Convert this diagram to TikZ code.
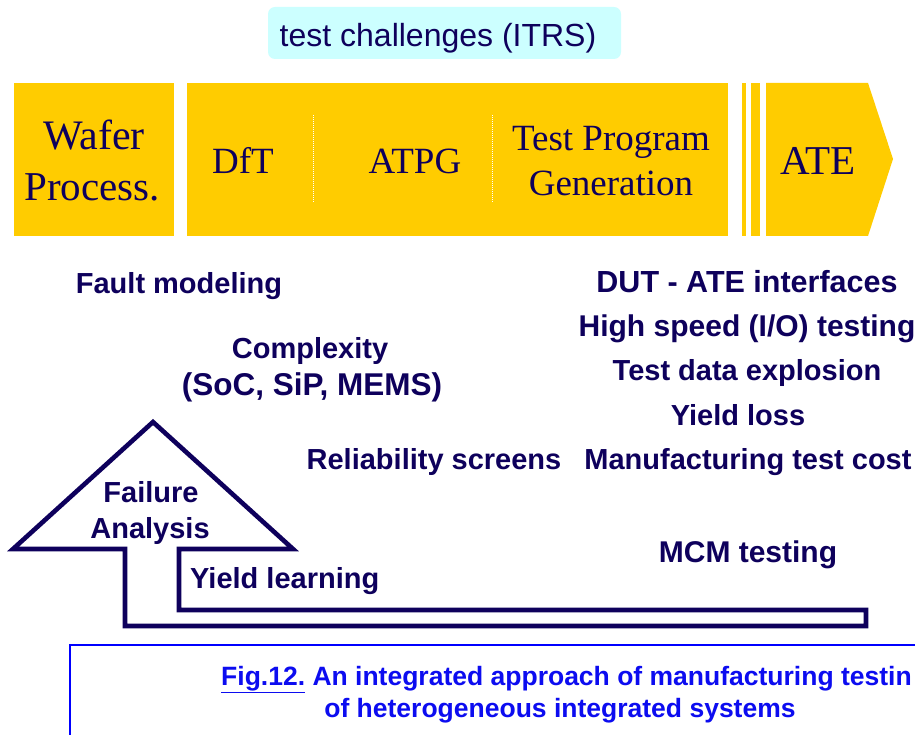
\documentclass[tikz,border=0pt]{standalone}
\usepackage{fontspec}
\setmainfont{Liberation Serif}
\newfontfamily\arialf{Liberation Sans}
\definecolor{baryellow}{RGB}{255,204,0}
\definecolor{cyanbg}{RGB}{204,255,255}
\definecolor{navy}{RGB}{14,0,92}
\definecolor{capblue}{RGB}{12,12,240}
\definecolor{capline}{RGB}{0,0,255}
\tikzset{
  sanslbl/.style={font=\arialf\bfseries\fontsize{29}{36}\selectfont, text=navy, inner sep=0pt, anchor=base},
  bigsans/.style={font=\arialf\bfseries\fontsize{30.5}{36}\selectfont},
  seriflbl/.style={font=\fontsize{37}{45}\selectfont, text=navy, inner sep=0pt, anchor=base},
  caplbl/.style={font=\arialf\bfseries\fontsize{26.5}{32}\selectfont, text=capblue, inner sep=0pt, anchor=base},
  barseg/.style={fill=baryellow, draw=none},
  divider/.style={draw=white, line width=0.9pt, dash pattern=on 1pt off 1pt},
  flowline/.style={draw=navy, line width=4.6pt, line join=miter}
}
\begin{document}
\begin{tikzpicture}[x=1pt,y=-1pt]
\useasboundingbox (0,0) rectangle (915,735);
\fill[white] (0,0) rectangle (915,735);

% title box
\fill[cyanbg, rounded corners=7pt] (268,7) rectangle (621,59);
\node[font=\arialf\fontsize{32}{38}\selectfont, text=navy, inner sep=0pt, anchor=base] (itrs) at (438,47) {test challenges (ITRS)};

% yellow process bar
\fill[barseg] (14,83) rectangle (174,236);
\fill[barseg] (187,83) rectangle (728,236);
\fill[barseg] (742,83) rectangle (746,236);
\fill[barseg] (751,83) rectangle (760,236);
\fill[barseg] (766,83) -- (868,83) -- (893,159) -- (868,236) -- (766,236) -- cycle;
\draw[divider] (313,115) -- (313,202);
\draw[divider] (492,115) -- (492,202);

\node[seriflbl, font=\fontsize{42}{45}\selectfont] (wafer1) at (94,150) {Wafer};
\node[seriflbl, font=\fontsize{41}{45}\selectfont] (wafer2) at (92,201) {Process.};
\node[seriflbl] (dft) at (243,174) {DfT};
\node[seriflbl] (atpg) at (415,174) {ATPG};
\node[seriflbl] (tpg1) at (611,151) {Test Program};
\node[seriflbl] (tpg2) at (611,196) {Generation};
\node[seriflbl, font=\fontsize{41}{45}\selectfont] (ate) at (818,175) {ATE};

% challenge labels
\node[sanslbl] (fault) at (179,293) {Fault modeling};
\node[sanslbl] (cplx1) at (310,358) {Complexity};
\node[sanslbl, font=\arialf\bfseries\fontsize{31.5}{36}\selectfont] (cplx2) at (312,395) {(SoC, SiP, MEMS)};
\node[sanslbl, bigsans] (dut) at (747,292) {DUT - ATE interfaces};
\node[sanslbl, font=\arialf\bfseries\fontsize{30}{36}\selectfont] (hspeed) at (747,336) {High speed (I/O) testing};
\node[sanslbl] (tdata) at (747,380) {Test data explosion};
\node[sanslbl] (yloss) at (738,425) {Yield loss};
\node[sanslbl] (reli) at (434,469) {Reliability screens};
\node[sanslbl] (mcost) at (748,469) {Manufacturing test cost};
\node[sanslbl, font=\arialf\bfseries\fontsize{30}{36}\selectfont] (mcm) at (748,562) {MCM testing};

% failure analysis arrow
\draw[flowline] (125,626) -- (125,549) -- (13,549) -- (153,422) -- (293,549) -- (179,549) -- (179,610) -- (866,610) -- (866,626) -- cycle;
\node[sanslbl] (fail1) at (151,502) {Failure};
\node[sanslbl] (fail2) at (150,538) {Analysis};
\node[sanslbl, anchor=base west] (ylearn) at (190,588) {Yield learning};

% caption
\draw[capline, line width=2.2pt] (70,740) -- (70,645) -- (920,645);
\node[caplbl, anchor=base west] (cap1) at (221,685) {\underline{Fig.12.} An integrated approach of manufacturing testin};
\node[caplbl] (cap2) at (560,717) {of heterogeneous integrated systems};
\end{tikzpicture}
\end{document}
